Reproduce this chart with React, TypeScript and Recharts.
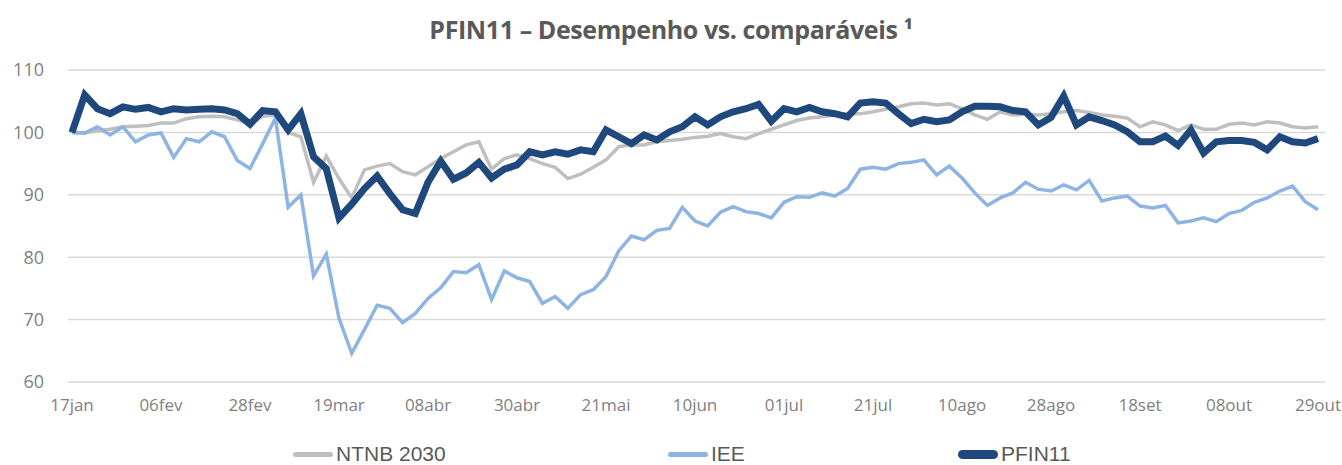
import { CartesianGrid, Line, LineChart, XAxis, YAxis } from 'recharts'

// labels on the category axis, one every STEP points
const xLabels = ['17jan', '06fev', '28fev', '19mar', '08abr', '30abr', '21mai', '10jun', '01jul', '21jul', '10ago', '28ago', '18set', '08out', '29out']
const STEP = 7
const yTicks = [60, 70, 80, 90, 100, 110]

const ntnb2030 = [
  100.0, 99.9, 100.3, 100.5, 100.9, 101.0, 101.1, 101.5, 101.5, 102.2,
  102.5, 102.6, 102.5, 102.0, 101.3, 102.6, 102.8, 100.0, 99.3, 92.0,
  96.2, 92.6, 89.5, 94.0, 94.6, 95.0, 93.7, 93.2, 94.5, 95.8,
  96.9, 98.0, 98.5, 94.1, 95.8, 96.4, 95.8, 95.0, 94.4, 92.6,
  93.3, 94.4, 95.6, 97.7, 98.0, 98.0, 98.5, 98.7, 98.9, 99.2,
  99.4, 99.8, 99.3, 99.0, 99.8, 100.5, 101.2, 101.9, 102.3, 102.5,
  102.8, 103.0, 103.0, 103.3, 103.7, 104.1, 104.6, 104.7, 104.4, 104.6,
  103.8, 102.8, 102.1, 103.3, 102.8, 102.9, 102.8, 103.0, 103.3, 103.5,
  103.2, 102.8, 102.6, 102.3, 100.9, 101.7, 101.2, 100.3, 101.2, 100.5,
  100.5, 101.3, 101.5, 101.2, 101.7, 101.5, 100.9, 100.7, 100.9,
]

const iee = [
  100.0, 99.9, 100.9, 99.6, 100.9, 98.5, 99.6, 99.9, 96.0, 99.0,
  98.5, 100.1, 99.3, 95.5, 94.2, 98.2, 102.3, 88.0, 90.0, 77.0,
  80.5, 70.2, 64.6, 68.4, 72.3, 71.8, 69.5, 71.0, 73.4, 75.1,
  77.7, 77.5, 78.8, 73.2, 77.8, 76.7, 76.1, 72.6, 73.7, 71.8,
  74.0, 74.8, 76.9, 81.0, 83.4, 82.8, 84.3, 84.6, 88.0, 85.8,
  85.0, 87.2, 88.1, 87.3, 87.0, 86.3, 88.8, 89.7, 89.6, 90.3,
  89.8, 91.0, 94.1, 94.4, 94.1, 95.0, 95.2, 95.6, 93.2, 94.6,
  92.7, 90.3, 88.3, 89.5, 90.3, 92.0, 90.9, 90.6, 91.6, 90.8,
  92.3, 89.0, 89.5, 89.8, 88.2, 87.9, 88.3, 85.5, 85.8, 86.3,
  85.7, 87.0, 87.5, 88.8, 89.5, 90.6, 91.4, 88.9, 87.6,
]

const pfin11 = [
  100.0, 106.0, 103.8, 103.0, 104.1, 103.7, 104.0, 103.3, 103.8, 103.6,
  103.7, 103.8, 103.6, 103.0, 101.3, 103.5, 103.3, 100.4, 103.0, 96.1,
  94.2, 86.3, 88.5, 91.0, 93.0, 90.2, 87.6, 87.0, 92.0, 95.4,
  92.5, 93.5, 95.2, 92.7, 94.1, 94.8, 96.9, 96.4, 96.9, 96.5,
  97.2, 96.9, 100.4, 99.3, 98.2, 99.6, 98.8, 100.1, 100.9, 102.5,
  101.2, 102.5, 103.3, 103.8, 104.5, 101.8, 103.8, 103.3, 104.0, 103.3,
  103.0, 102.5, 104.7, 104.9, 104.7, 103.0, 101.4, 102.1, 101.7, 102.0,
  103.3, 104.2, 104.2, 104.1, 103.5, 103.3, 101.2, 102.4, 105.8, 101.2,
  102.5, 101.9, 101.2, 100.1, 98.5, 98.5, 99.4, 97.9, 100.4, 96.7,
  98.5, 98.7, 98.7, 98.4, 97.2, 99.3, 98.5, 98.3, 99.0,
]

const COLORS = { ntnb: '#bfbfbf', iee: '#8db4e2', pfin: '#1f497d' }
const TEXT = '#595959'
const TICK = '#7f7f7f'

const data = pfin11.map((v, i) => ({ i, ntnb: ntnb2030[i], iee: iee[i], pfin: v }))
const xTicks = xLabels.map((_, k) => k * STEP)

const legendItems = [
  { label: 'NTNB 2030', color: COLORS.ntnb, thick: 5, left: 293 },
  { label: 'IEE', color: COLORS.iee, thick: 5, left: 668 },
  { label: 'PFIN11', color: COLORS.pfin, thick: 9, left: 958 },
]

export default function App() {
  return (
    <div style={{ position: 'absolute', left: 0, top: 0, width: 1342, height: 465, background: '#fff' }}>
      <div
        style={{
          position: 'absolute',
          top: 12,
          width: 1342,
          textAlign: 'center',
          fontFamily: '"Open Sans", sans-serif',
          fontWeight: 700,
          fontSize: 25,
          letterSpacing: -0.4,
          color: TEXT,
        }}
      >
        PFIN11 – Desempenho vs. comparáveis ¹
      </div>
      <LineChart width={1342} height={465} data={data} margin={{ top: 70, right: 17, bottom: 53, left: 0 }}>
        <CartesianGrid vertical={false} stroke="#d9d9d9" strokeWidth={1.5} />
        <XAxis
          dataKey="i"
          type="number"
          domain={[0, (xLabels.length - 1) * STEP]}
          ticks={xTicks}
          tickFormatter={(v: number) => xLabels[v / STEP]}
          padding={{ left: 4, right: 7 }}
          axisLine={false}
          tickLine={false}
          tickMargin={11}
          height={30}
          interval={0}
          tick={{ fill: TICK, fontSize: 17, fontFamily: '"Open Sans", sans-serif' }}
        />
        <YAxis
          domain={[60, 110]}
          ticks={yTicks}
          axisLine={false}
          tickLine={false}
          tickMargin={18}
          width={68}
          tick={{ fill: TICK, fontSize: 18, fontFamily: '"Open Sans", sans-serif' }}
        />
        <Line dataKey="ntnb" stroke={COLORS.ntnb} strokeWidth={3.5} dot={false} isAnimationActive={false} />
        <Line dataKey="iee" stroke={COLORS.iee} strokeWidth={3.5} dot={false} isAnimationActive={false} />
        <Line dataKey="pfin" stroke={COLORS.pfin} strokeWidth={7} dot={false} isAnimationActive={false} />
      </LineChart>
      {legendItems.map((it) => (
        <div
          key={it.label}
          style={{
            position: 'absolute',
            left: it.left,
            top: 442,
            display: 'flex',
            alignItems: 'center',
            fontFamily: '"Liberation Sans", Arial, sans-serif',
            fontSize: 21,
            color: TEXT,
          }}
        >
          <span style={{ display: 'inline-block', width: 40, height: it.thick, borderRadius: it.thick, background: it.color, marginRight: 3 }} />
          {it.label}
        </div>
      ))}
    </div>
  )
}
